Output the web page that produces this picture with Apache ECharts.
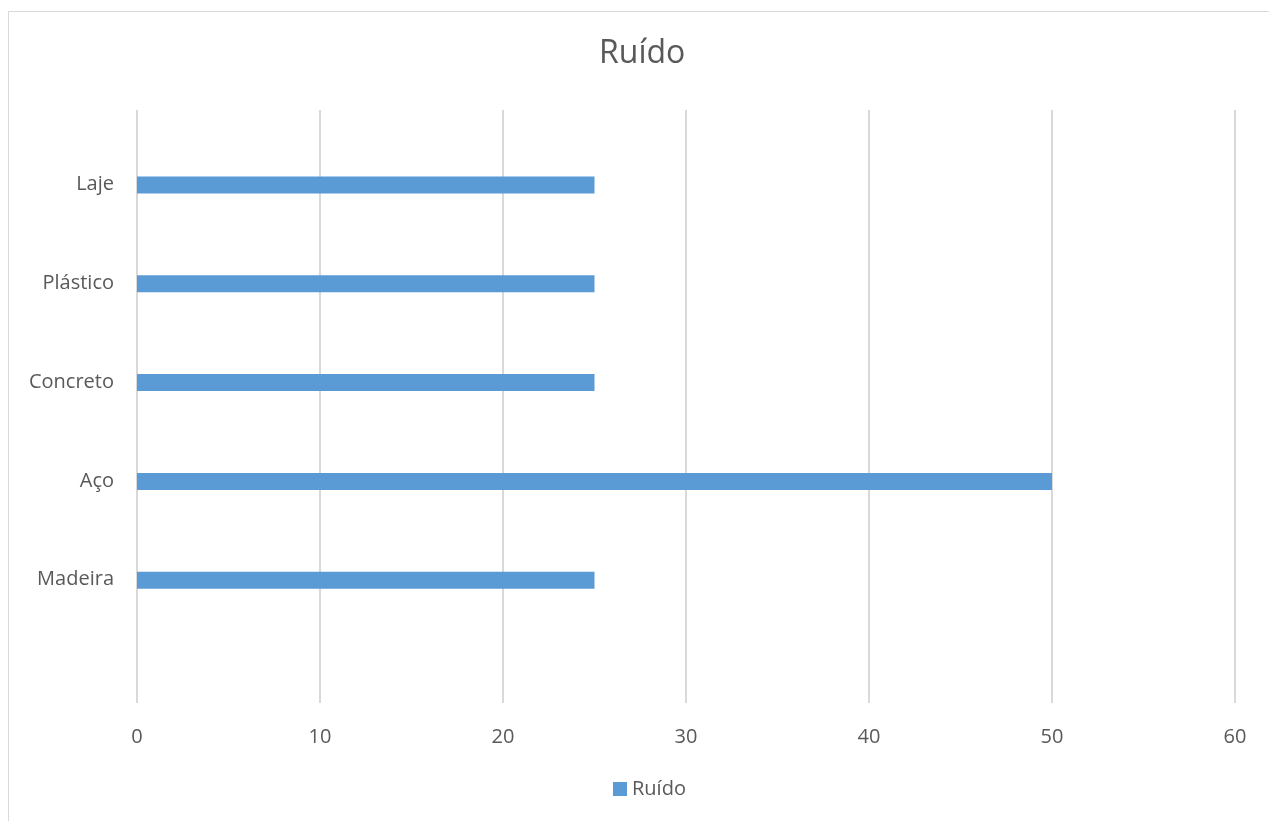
<!DOCTYPE html>
<html>
<head>
<meta charset="utf-8">
<script src="https://cdn.jsdelivr.net/npm/echarts@6/dist/echarts.min.js"></script>
<style>
html,body{margin:0;padding:0;background:#fff;overflow:hidden;}
#wrap{position:relative;width:1269px;height:821px;overflow:hidden;}
#frame{position:absolute;left:8px;top:11px;width:1400px;height:1000px;border-left:1px solid #d9d9d9;border-top:1px solid #d9d9d9;pointer-events:none;z-index:2;}
#chart{position:absolute;left:0;top:0;width:1269px;height:821px;}
</style>
</head>
<body>
<div id="wrap"><div id="chart"></div><div id="frame"></div></div>
<script>
// Data
const categories = ['', 'Madeira', 'Aço', 'Concreto', 'Plástico', 'Laje'];
const ruidoValues = [null, 25, 50, 25, 25, 25];
const seriesName = 'Ruído';
const chartTitle = 'Ruído';
const xTicks = { min: 0, max: 60, interval: 10 };

const FONT = '"Open Sans", "Noto Sans", sans-serif';
const TXT = '#595959';
const chart = echarts.init(document.getElementById('chart'), null, { renderer: 'canvas' });

// placeholder (empty) series keep the bar offset within each category slot
const placeholders = [0, 1, 2].map(i => ({
  type: 'bar', name: '_p' + i, data: [], barWidth: 17, barGap: '0%', silent: true
}));

chart.setOption({
  animation: false,
  backgroundColor: '#fff',
  title: {
    text: chartTitle,
    left: 594,
    top: 33,
    textStyle: { fontFamily: FONT, fontSize: 32, fontWeight: 'normal', color: TXT }
  },
  legend: {
    data: [seriesName],
    left: 608,
    top: 774,
    itemWidth: 14,
    itemHeight: 14,
    icon: 'rect',
    textStyle: { fontFamily: FONT, fontSize: 20, color: TXT }
  },
  grid: { left: 137, right: 34, top: 110, bottom: 118, containLabel: false },
  xAxis: {
    type: 'value',
    min: xTicks.min, max: xTicks.max, interval: xTicks.interval,
    axisLine: { show: false },
    axisTick: { show: false },
    splitLine: { show: true, lineStyle: { color: '#d9d9d9', width: 2 } },
    axisLabel: { fontFamily: FONT, fontSize: 20, color: TXT, margin: 24 }
  },
  yAxis: {
    type: 'category',
    data: categories,
    axisLine: { show: false },
    axisTick: { show: false },
    splitLine: { show: false },
    axisLabel: {
      fontFamily: FONT, fontSize: 20, color: TXT, margin: 23,
      verticalAlign: 'top',
      lineHeight: 50
    }
  },
  series: placeholders.concat([{
    type: 'bar',
    name: seriesName,
    data: ruidoValues,
    barWidth: 17,
    barGap: '0%',
    itemStyle: { color: '#5b9bd5' }
  }])
});
</script>
</body>
</html>
